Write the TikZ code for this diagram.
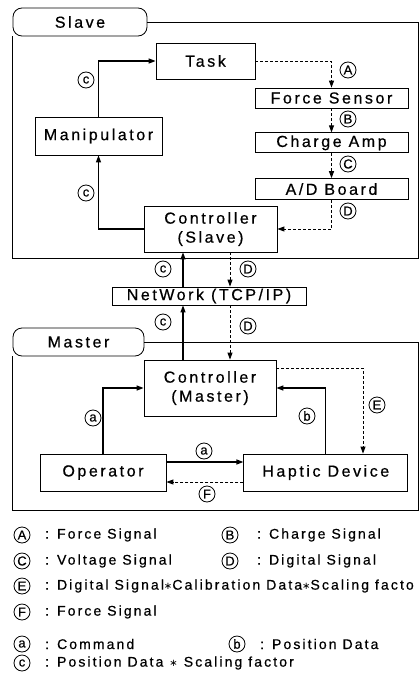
\documentclass[tikz,border=0pt]{standalone}
\usepackage{fontspec}
\setmainfont{Liberation Sans}
\newfontfamily\boxfont{Liberation Sans}[LetterSpace=16, FakeBold=0.6]
\newfontfamily\keyfont{Liberation Sans}[LetterSpace=15, FakeBold=0.6]
\newfontfamily\starfont{DejaVu Sans}
\usetikzlibrary{arrows.meta, positioning, calc}
\tikzstyle{arrow}=[-{Triangle[length=7pt,width=5pt]}, line width=1.3pt]
\tikzstyle{darrow}=[-{Triangle[length=7pt,width=5pt]}, line width=0.9pt, dash pattern=on 3pt off 2pt]

\begin{document}
\begin{tikzpicture}[x=1pt, y=-1pt,
  mbox/.style={rectangle, draw, line width=0.8pt, inner sep=0pt, align=center,
               font=\boxfont\fontsize{16}{19}\selectfont},
  tag/.style={circle, draw, line width=0.8pt, inner sep=0pt, minimum size=16pt,
              font=\keyfont\fontsize{13}{13}\selectfont},
  keytext/.style={anchor=west, inner sep=0pt, font=\keyfont\fontsize{14}{16}\selectfont},
  tab/.style={rectangle, rounded corners=9pt, draw, line width=0.8pt, inner sep=0pt,
              minimum height=28pt, font=\boxfont\fontsize{16}{19}\selectfont},
  frame/.style={line width=0.8pt}
]
\useasboundingbox (0,0) rectangle (419,680);

\node[tab, minimum width=134pt] (slave_t) at (80,22) {Slave};
\draw[frame] (slave_t.east) -| (418,258) -| (slave_t.south west);
\node[tab, minimum width=131pt] (master_t) at (78.5,342) {Master};
\draw[frame] (master_t.east) -| (418,510) -| (master_t.south west);

\node[mbox, minimum width=99pt, minimum height=36pt] (task_n) at (205.5,61) {Task};
\node[mbox, minimum width=153pt, minimum height=20pt] (fs_n) at (331.5,98) {Force Sensor};
\node[mbox, minimum width=153pt, minimum height=20pt, below=24pt of fs_n] (ca_n) {Charge Amp};
\node[mbox, minimum width=153pt, minimum height=21pt, below=25pt of ca_n] (ad_n) {A/D Board};
\node[mbox, minimum width=127pt, minimum height=38pt] (manip_n) at (98.5,136) {Manipulator};
\node[mbox, minimum width=133pt, minimum height=46pt] (ctrlS_n) at (210.5,229) {Controller\\(Slave)};
\node[mbox, minimum width=194pt, minimum height=18pt] (net_n) at (209,296) {NetWork (TCP/IP)};
\node[mbox, minimum width=132pt, minimum height=56pt] (ctrlM_n) at (210,388) {Controller\\(Master)};
\node[mbox, minimum width=126pt, minimum height=37pt] (op_n) at (103,472.5) {Operator};
\node[mbox, minimum width=164pt, minimum height=37pt, right=77pt of op_n] (hap_n) {Haptic Device};

\coordinate (up_x) at (183,0);
\coordinate (dn_x) at (230,0);
\coordinate (e_x) at (363,0);

\draw[arrow] (ctrlS_n.west) -| (manip_n.south);
\draw[arrow] (manip_n.north) |- (task_n.west);
\draw[darrow] (task_n.east) -| (fs_n.north);
\draw[darrow] (fs_n.south) -- (ca_n.north);
\draw[darrow] (ca_n.south) -- (ad_n.north);
\draw[darrow] (ad_n.south) |- (ctrlS_n.east);
\draw[arrow] (net_n.north -| up_x) -- (ctrlS_n.south -| up_x);
\draw[arrow] (ctrlM_n.north -| up_x) -- (net_n.south -| up_x);
\draw[darrow] (ctrlS_n.south -| dn_x) -- (net_n.north -| dn_x);
\draw[darrow] (net_n.south -| dn_x) -- (ctrlM_n.north -| dn_x);
\draw[arrow] (op_n.north) |- (ctrlM_n.west);
\draw[arrow] (hap_n.north) |- (ctrlM_n.east);
\draw[darrow] ([yshift=20pt]ctrlM_n.east) -| (hap_n.north -| e_x);
\draw[arrow] ([yshift=10.5pt]op_n.east) -- ([yshift=10.5pt]op_n.east -| hap_n.west);
\draw[darrow] ([yshift=-9.5pt]hap_n.west) -- ([yshift=-9.5pt]hap_n.west -| op_n.east);

\node[tag] (c1_l) at (86,80) {c};
\node[tag] (c2_l) at (86,193) {c};
\node[tag] (A_l) at (348,70) {A};
\node[tag] (B_l) at (348,119) {B};
\node[tag] (C_l) at (348,164) {C};
\node[tag] (D1_l) at (348,211) {D};
\node[tag] (c3_l) at (163,269) {c};
\node[tag] (D2_l) at (248,269) {D};
\node[tag] (c4_l) at (163,322) {c};
\node[tag] (D3_l) at (248,326) {D};
\node[tag] (a1_l) at (93,418) {a};
\node[tag] (b_l) at (307,416) {b};
\node[tag] (E_l) at (377,405) {E};
\node[tag] (a2_l) at (204,451) {a};
\node[tag] (F_l) at (207,494) {F};

\node[tag] (A_k) at (22,535) {A};
\node[keytext] (A_t) at (45,535) {: Force Signal};
\node[tag] (B_k) at (230,535) {B};
\node[keytext] (B_t) at (257,535) {: Charge Signal};
\node[tag] (C_k) at (22,561) {C};
\node[keytext] (C_t) at (45,561) {: Voltage Signal};
\node[tag] (D_k) at (230,561) {D};
\node[keytext] (D_t) at (257,561) {: Digital Signal};
\node[tag] (E_k) at (22,586) {E};
\node[keytext] (E_t) at (45,586) {: Digital Signal{\starfont\fontsize{10}{10}\selectfont∗}Calibration Data{\starfont\fontsize{10}{10}\selectfont∗}Scaling facto};
\node[tag] (F_k) at (22,612) {F};
\node[keytext] (F_t) at (45,612) {: Force Signal};
\node[tag] (a_k) at (22,644) {a};
\node[keytext] (a_t) at (45,644) {: Command};
\node[tag] (b_k) at (237,644) {b};
\node[keytext] (b_t) at (260,644) {: Position Data};
\node[tag] (c_k) at (22,663) {c};
\node[keytext] (c_t) at (45,663) {: Position Data {\starfont\fontsize{10}{10}\selectfont∗} Scaling factor};
\end{tikzpicture}
\end{document}
